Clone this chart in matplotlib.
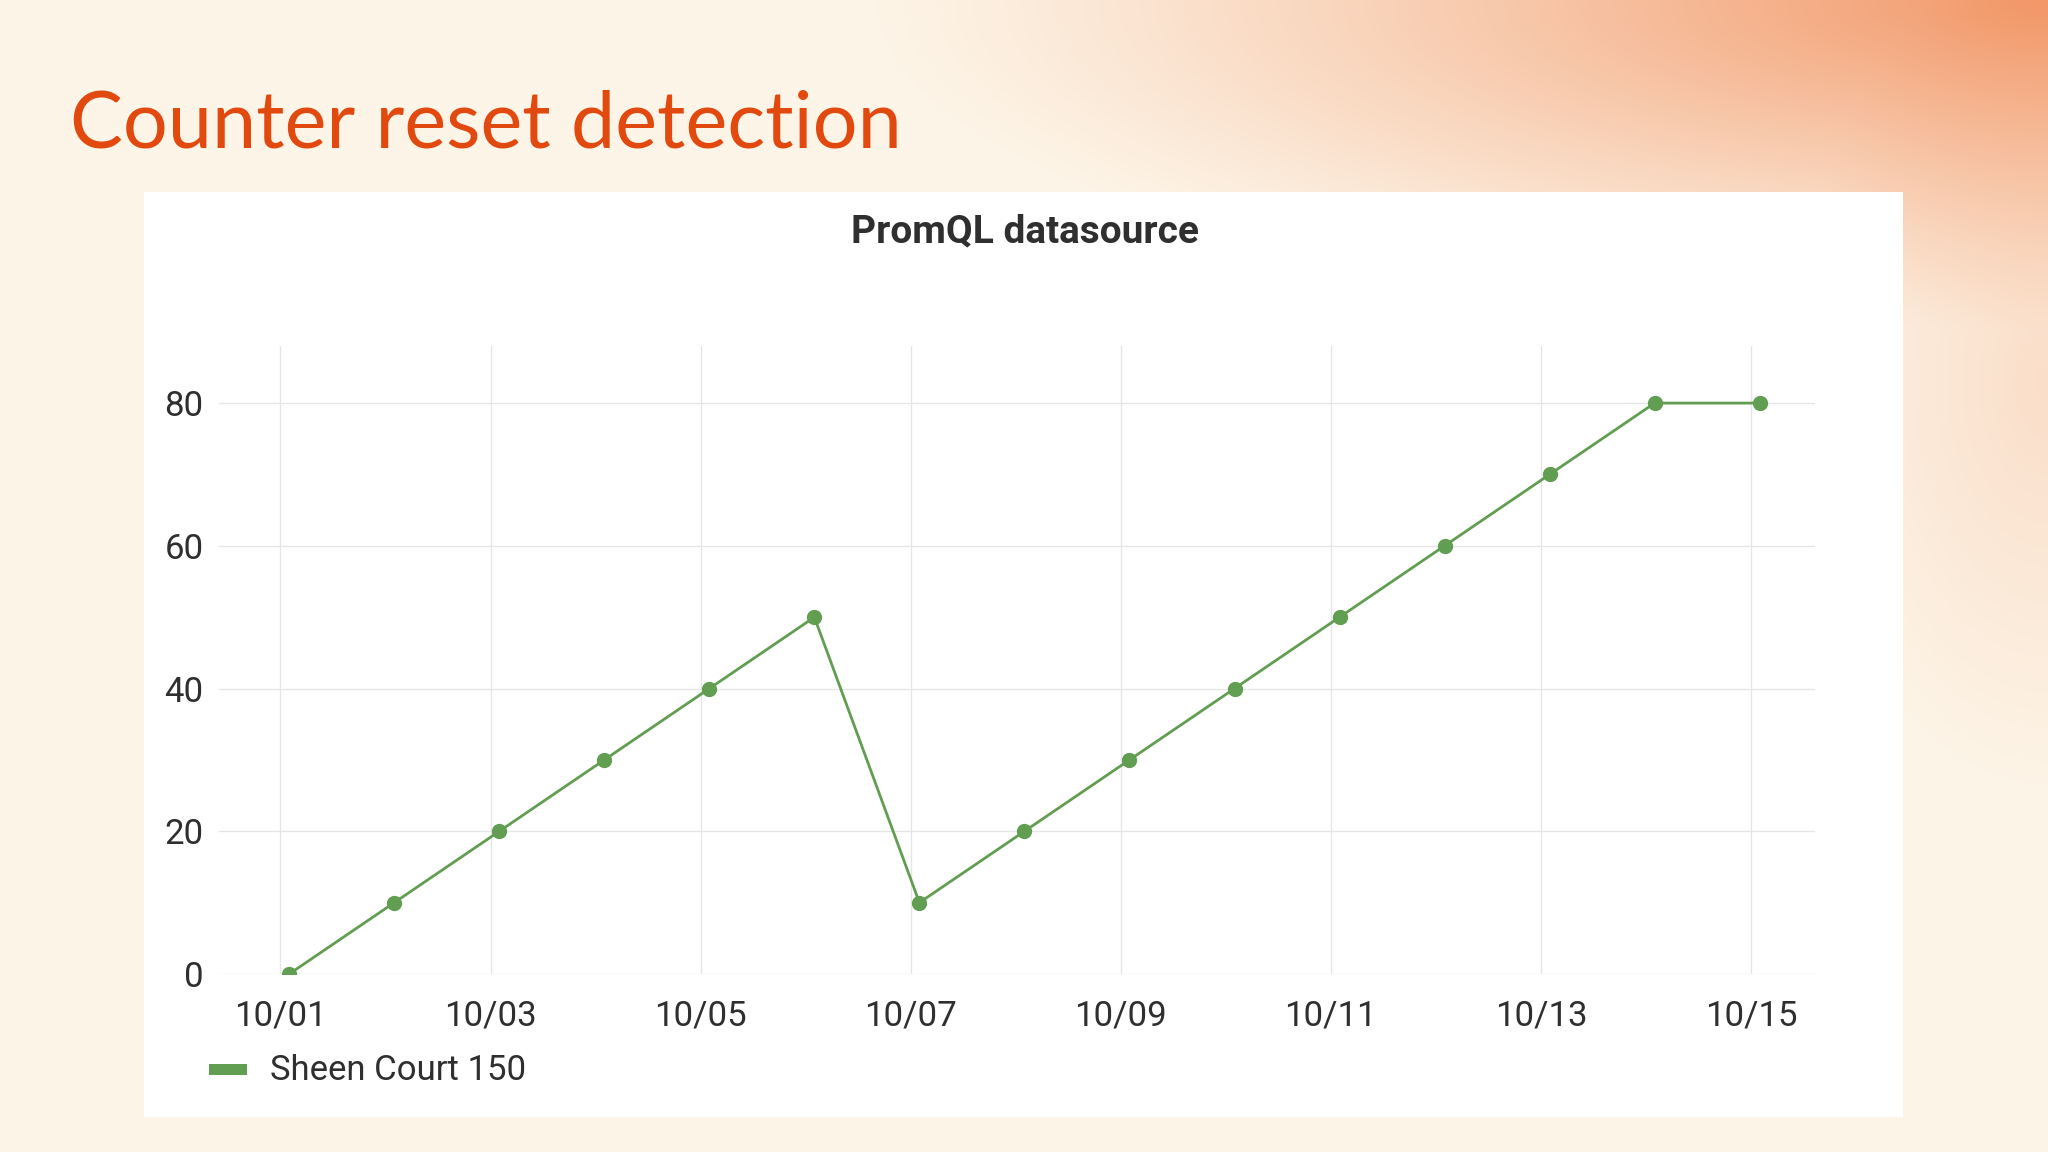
import datetime as dt
import numpy as np
import matplotlib.pyplot as plt
import matplotlib.dates as mdates
from matplotlib.patches import Rectangle

# data
start = dt.datetime(2023, 10, 1, 2, 0)
days = list(range(15))
values = [0, 10, 20, 30, 40, 50, 10, 20, 30, 40, 50, 60, 70, 80, 80]
series_name = "Sheen Court 150"
slide_title = "Counter reset detection"
panel_title = "PromQL datasource"
yticks = [0, 20, 40, 60, 80]

times = [start + dt.timedelta(days=d) for d in days]

W, H = 2048, 1152
fig = plt.figure(figsize=(W / 100, H / 100), dpi=100)

# slide background: cream with an orange glow in the top right corner
bg = fig.add_axes([0, 0, 1, 1])
bg.set_axis_off()
yy, xx = np.mgrid[0:H:4, 0:W:4]
d = np.sqrt(((xx - W) / 1200.0) ** 2 + (yy / 330.0) ** 2)
w = np.clip(1 - d, 0, 1) ** 1.2
side = np.clip(1 - np.sqrt(((xx - W) / 260.0) ** 2 + ((yy - 380) / 420.0) ** 2), 0, 1) * 0.25
w = np.clip(w + side, 0, 1)
cream = np.array([253, 245, 232]) / 255
orange = np.array([242, 152, 105]) / 255
img = cream[None, None, :] * (1 - w[..., None]) + orange[None, None, :] * w[..., None]
bg.imshow(img, extent=[0, W, H, 0], aspect='auto', interpolation='bilinear')
bg.set_xlim(0, W)
bg.set_ylim(H, 0)

# white panel
bg.add_patch(Rectangle((144, 192), 1903 - 144, 1117 - 192, facecolor='white', edgecolor='none'))

bg.text(70, 148, slide_title, fontsize=57, family='Lato', color='#e2490f', va='baseline', ha='left')
bg.text(1025, 232, panel_title, fontsize=28, family='Roboto', weight='bold', color='#2f2f2f',
        va='center', ha='center')

# legend
bg.add_patch(Rectangle((209, 1064), 38, 11, facecolor='#629e51', edgecolor='none'))
bg.text(270, 1071, series_name, fontsize=25, family='Roboto', color='#2f2f2f', va='center', ha='left')

ax = fig.add_axes([219 / W, 1 - 974 / H, (1815 - 219) / W, (974 - 346) / H])
ax.set_facecolor('none')
ax.plot(times, values, color='#629e51', linewidth=2, marker='o', markersize=10,
        markerfacecolor='#629e51', markeredgecolor='#629e51', zorder=3)

x0 = mdates.date2num(dt.datetime(2023, 10, 1))
ax.set_xlim(x0 - 0.585, x0 + 14.61)
ax.set_ylim(0, 88)
ax.set_yticks(yticks)
ax.xaxis.set_major_locator(mdates.DayLocator(interval=2))
ax.xaxis.set_major_formatter(mdates.DateFormatter('%m/%d'))

ax.grid(True, color='#e6e6ea', linewidth=1)
ax.set_axisbelow(True)
for s in ax.spines.values():
    s.set_visible(False)
ax.tick_params(length=0, labelsize=25, labelcolor='#2f2f2f')
ax.tick_params(axis='y', pad=11)
ax.tick_params(axis='x', pad=18)
for lab in ax.get_xticklabels() + ax.get_yticklabels():
    lab.set_family('Roboto')

fig.savefig('out.png', dpi=100)
